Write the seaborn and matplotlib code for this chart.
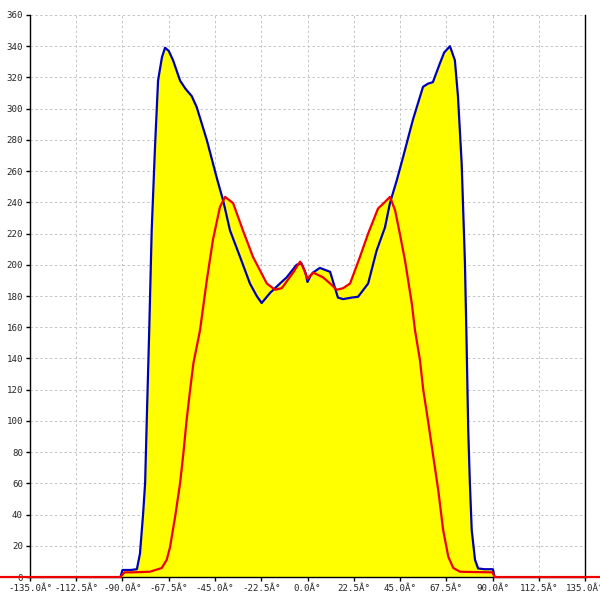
import matplotlib
matplotlib.use('Agg')
import numpy as np
import pandas as pd
import matplotlib.pyplot as plt
import seaborn as sns

# blue series (angle in degrees, count)
blue_angle = [-91, -90, -86, -83, -81.5, -80, -79, -78, -77, -75.8, -74.2, -72.7,
              -70.8, -69.3, -67.5, -65.4, -62, -59.5, -56.3, -53.9, -49, -44.2,
              -41, -37.7, -32.8, -28, -24.7, -22.3, -18.2, -13.4, -10.1, -5.3,
              -3, -1, 0, 1.5, 2.7, 6, 11, 14.8, 17.3, 21.5, 24.6, 29.5, 33.6,
              37.7, 40.1, 43.4, 46.5, 51.3, 56.2, 58.6, 61, 64.4, 66.5, 69.3,
              71.7, 73.2, 75, 76.6, 77.4, 78.2, 79, 79.9, 81.5, 83, 86, 90.2, 91]
blue_count = [0, 4.5, 4.5, 5, 15, 40, 60, 110, 158, 222, 275, 318,
              333, 339, 337, 331, 318, 313, 308, 301, 280, 256,
              241, 222, 205, 188, 180, 175.5, 182, 188, 192, 200,
              201, 195, 189, 193, 195, 198, 195.5, 179, 178, 179, 179.5, 188, 209,
              224, 239.5, 254, 269, 293, 314, 316, 317, 329, 336, 340,
              331, 308, 265, 201, 150, 94, 60, 30, 11, 5.5, 5, 5, 0]

# red series
red_angle = [-180, -91, -89, -85, -76.6, -70.9, -68.5, -66.9, -64.4, -62, -60.4,
             -58.8, -57.1, -55.5, -53.9, -52.3, -49, -46, -42.6, -40.1, -36.2,
             -31.4, -26.5, -19.8, -15.8, -12.5, -7, -3.6, -2, 0, 2.7, 7.5, 11,
             14.2, 17.3, 20.7, 25.5, 29.5, 34.3, 37.5, 40.1, 42.6, 44.9, 47.4,
             50.7, 52.3, 54.7, 56.3, 58.8, 61.2, 63.6, 66, 68.5, 70.9, 74.2,
             80, 90, 91, 180]
red_count = [0, 0, 3, 3, 3.4, 5.8, 11, 19, 38.6, 60, 79,
             100.6, 120, 137, 147.5, 158, 190, 216, 237, 243.5, 239.5,
             222, 205, 188, 184, 185, 195, 202, 198, 191, 195, 192, 188,
             184, 185, 188, 205, 220, 236, 240, 243.5, 235, 220, 203,
             175.5, 158, 139, 120, 98.6, 77, 55.7, 30, 13, 5.8, 3.4,
             3.2, 3, 0, 0]

x_ticks = np.arange(-135, 135.1, 22.5)
y_ticks = np.arange(0, 361, 20)

blue = pd.DataFrame({'angle': blue_angle, 'count': blue_count})
red = pd.DataFrame({'angle': red_angle, 'count': red_count})

sns.set_style('white')
plt.rcParams['font.family'] = ['DejaVu Sans Mono']

fig = plt.figure(figsize=(6, 6), dpi=100)
ax = fig.add_axes([0.05, 0.0383, 0.925, 0.9367])

ax.fill_between(blue['angle'], blue['count'], color='#ffff00', lw=0, zorder=1)
ax.fill_between(red['angle'], red['count'], color='#ffff00', lw=0, zorder=1)
sns.lineplot(data=blue, x='angle', y='count', color='#0000bb', lw=1.6,
             ax=ax, zorder=3, sort=False)
sns.lineplot(data=red, x='angle', y='count', color='#ee0000', lw=1.6,
             ax=ax, zorder=4, sort=False)
ax.lines[-1].set_clip_on(False)

ax.set_xlim(-135, 135)
ax.set_ylim(0, 360)
ax.set_xticks(x_ticks)
ax.set_yticks(y_ticks)
ax.set_xticklabels([f'{v:.1f}Â°' for v in x_ticks])
ax.set_yticklabels([str(v) for v in y_ticks])
ax.tick_params(axis='both', labelsize=6.6, length=3, width=1, direction='out',
               color='black', pad=2, bottom=True, left=True)
ax.set_xlabel('')
ax.set_ylabel('')

ax.grid(True, color='#c4c4c4', linestyle=(0, (2.5, 2.5)), lw=0.7, zorder=0)
ax.set_axisbelow(True)
ax.spines['top'].set_visible(False)
for side in ['left', 'right', 'bottom']:
    ax.spines[side].set_color('black')
    ax.spines[side].set_linewidth(1)

fig.savefig('out.png', dpi=100)
